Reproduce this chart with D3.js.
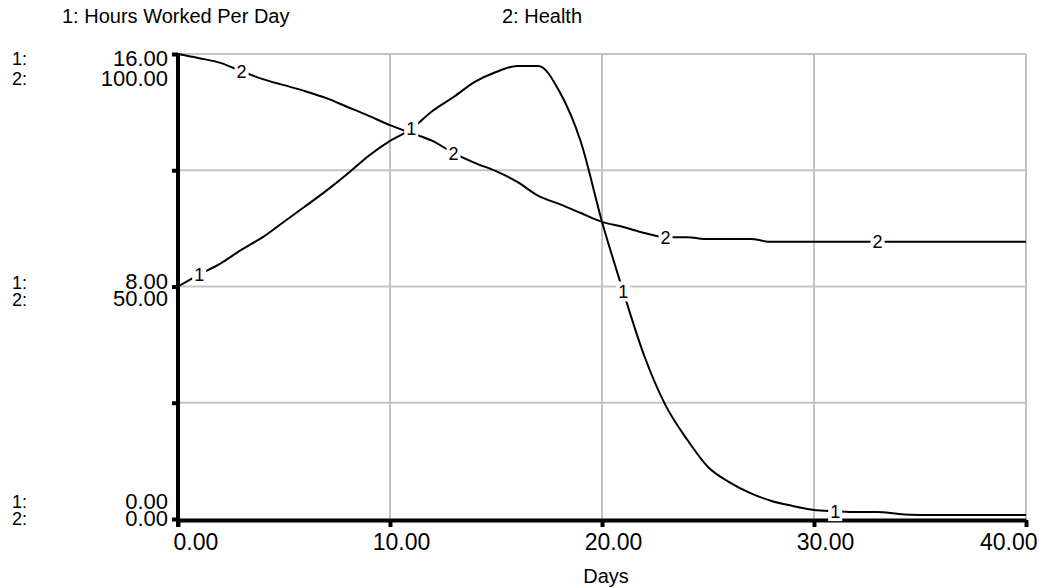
<!DOCTYPE html>
<html>
<head>
<meta charset="utf-8">
<script src="https://cdn.jsdelivr.net/npm/d3@7"></script>
<style>
body { margin: 0; background: #fff; }
svg { display: block; font-family: "Liberation Sans", Arial, sans-serif; }
</style>
</head>
<body>
<svg id="chart" width="1039" height="588"></svg>
<script>
// values, one per day
const days = [0, 1, 2, 3, 4, 5, 6, 7, 8, 9, 10, 11, 12, 13, 14, 15, 16, 17, 18, 19, 20,
    21, 22, 23, 24, 25, 26, 27, 28, 29, 30, 31, 32, 33, 34, 35, 36, 37, 38, 39, 40];
const hoursWorked = [8.00, 8.41, 8.79, 9.27, 9.70, 10.23, 10.76, 11.30, 11.88, 12.50, 13.01,
    13.42, 14.04, 14.52, 15.04, 15.38, 15.59, 15.59, 14.70, 12.98, 10.23,
    7.83, 5.60, 3.91, 2.75, 1.79, 1.27, 0.89, 0.62, 0.45, 0.31,
    0.27, 0.24, 0.24, 0.17, 0.14, 0.14, 0.14, 0.14, 0.14, 0.14];
const health = [100, 99.1, 98.1, 96.3, 94.6, 93.3, 92.0, 90.5, 88.6, 86.7, 84.7,
    83.0, 81.3, 78.7, 76.6, 74.8, 72.5, 69.5, 67.7, 65.8, 63.9,
    62.8, 61.5, 60.6, 60.6, 60.2, 60.2, 60.2, 59.6, 59.6, 59.6,
    59.6, 59.6, 59.6, 59.6, 59.6, 59.6, 59.6, 59.6, 59.6, 59.6];

const seriesNames = ["1: Hours Worked Per Day", "2: Health"];
const xTicks = [0, 10, 20, 30, 40];
const hoursTicks = [0, 8, 16];
const healthTicks = [0, 50, 100];
const gridHours = [4, 8, 12, 16];
const labelDays1 = [1, 11, 21, 31];
const labelDays2 = [3, 13, 23, 33];

const svg = d3.select("#chart");
const plotLeft = 178, plotRight = 1026, plotTop = 54, plotBottom = 519;

const x = d3.scaleLinear().domain([0, 40]).range([plotLeft, plotRight]);
const yHours = d3.scaleLinear().domain([0, 16]).range([plotBottom, plotTop]);
const yHealth = d3.scaleLinear().domain([0, 100]).range([plotBottom, plotTop]);
const fmt = d3.format(".2f");

// grid
const grid = svg.append("g").attr("stroke", "#c4c4c4").attr("stroke-width", 2);
grid.selectAll(".gv").data(xTicks.slice(1)).join("line")
    .attr("x1", d => x(d)).attr("x2", d => x(d))
    .attr("y1", plotTop).attr("y2", plotBottom);
grid.selectAll(".gh").data(gridHours).join("line")
    .attr("x1", plotLeft).attr("x2", plotRight)
    .attr("y1", d => yHours(d)).attr("y2", d => yHours(d));

// series lines
const data1 = days.map((d, i) => ({ day: d, v: hoursWorked[i] }));
const data2 = days.map((d, i) => ({ day: d, v: health[i] }));
const line1 = d3.line().curve(d3.curveMonotoneX).x(d => x(d.day)).y(d => yHours(d.v));
const line2 = d3.line().curve(d3.curveMonotoneX).x(d => x(d.day)).y(d => yHealth(d.v));

svg.append("path").datum(data1).attr("d", line1)
    .attr("fill", "none").attr("stroke", "#000").attr("stroke-width", 2);
svg.append("path").datum(data2).attr("d", line2)
    .attr("fill", "none").attr("stroke", "#000").attr("stroke-width", 2);

// bottom axis
const xAxis = svg.append("g")
    .attr("transform", `translate(0,${plotBottom + 1})`)
    .call(d3.axisBottom(x).tickValues(xTicks).tickFormat(fmt).tickSize(7).tickSizeOuter(0));
xAxis.select(".domain").attr("stroke-width", 4);
xAxis.selectAll(".tick line").attr("stroke-width", 4);
xAxis.selectAll(".tick text")
    .attr("font-size", 23).attr("font-family", "Liberation Sans, Arial, sans-serif")
    .attr("fill", "#000").attr("dy", null).attr("y", 30)
    .attr("text-anchor", (d, i) => i === 0 ? "start" : (i === xTicks.length - 1 ? "end" : "middle"))
    .attr("x", (d, i) => i === 0 ? -5 : 11);

// left axis: tick marks at quarters
const yAxis = svg.append("g")
    .attr("transform", `translate(${plotLeft},0)`)
    .call(d3.axisLeft(yHours).tickValues(gridHours.concat([0])).tickFormat("").tickSize(6).tickSizeOuter(0));
yAxis.select(".domain").attr("stroke-width", 4).attr("d", `M0,${plotTop - 1}V${plotBottom + 8}`);
yAxis.selectAll(".tick line").attr("stroke-width", 4);

// left tick labels, two rows per tick
const rowOffsets1 = { 0: -11, 8: 2, 16: 11 };
const rowOffsets2 = { 0: 6, 50: 19, 100: 31 };

const yAxis1 = svg.append("g")
    .attr("transform", `translate(${plotLeft},0)`)
    .call(d3.axisLeft(yHours).tickValues(hoursTicks).tickFormat(fmt).tickSize(0));
yAxis1.select(".domain").remove();
yAxis1.selectAll(".tick text")
    .attr("font-size", 22).attr("font-family", "Liberation Sans, Arial, sans-serif")
    .attr("fill", "#000").attr("dy", null).attr("x", -10)
    .attr("y", d => rowOffsets1[d]);

const yAxis2 = svg.append("g")
    .attr("transform", `translate(${plotLeft},0)`)
    .call(d3.axisLeft(yHealth).tickValues(healthTicks).tickFormat(fmt).tickSize(0));
yAxis2.select(".domain").remove();
yAxis2.selectAll(".tick text")
    .attr("font-size", 22).attr("font-family", "Liberation Sans, Arial, sans-serif")
    .attr("fill", "#000").attr("dy", null).attr("x", -10)
    .attr("y", d => rowOffsets2[d]);

svg.append("g").selectAll("text").data(hoursTicks).join("text")
    .attr("x", 12).attr("y", d => yHours(d) + rowOffsets1[d])
    .attr("font-size", 18).text("1:");
svg.append("g").selectAll("text").data(healthTicks).join("text")
    .attr("x", 12).attr("y", d => yHealth(d) + rowOffsets2[d])
    .attr("font-size", 18).text("2:");

// labels on the lines
function lineLabels(labelDays, values, scale, name) {
    const g = svg.append("g");
    const pts = labelDays.map(d => ({ x: x(d), y: scale(values[days.indexOf(d)]) }));
    g.selectAll("rect").data(pts).join("rect")
        .attr("x", d => d.x - 7).attr("y", d => d.y - 10)
        .attr("width", 14).attr("height", 20).attr("fill", "#fff");
    g.selectAll("text").data(pts).join("text")
        .attr("x", d => d.x).attr("y", d => d.y + 6.5)
        .attr("text-anchor", "middle").attr("font-size", 18).text(name);
}
lineLabels(labelDays1, hoursWorked, yHours, "1");
lineLabels(labelDays2, health, yHealth, "2");

// legend titles
svg.append("text").attr("x", 62).attr("y", 23).attr("font-size", 20).text(seriesNames[0]);
svg.append("text").attr("x", 502).attr("y", 23).attr("font-size", 20).text(seriesNames[1]);

// x title
svg.append("text").attr("x", 606).attr("y", 583).attr("text-anchor", "middle")
    .attr("font-size", 20).text("Days");
</script>
</body>
</html>
